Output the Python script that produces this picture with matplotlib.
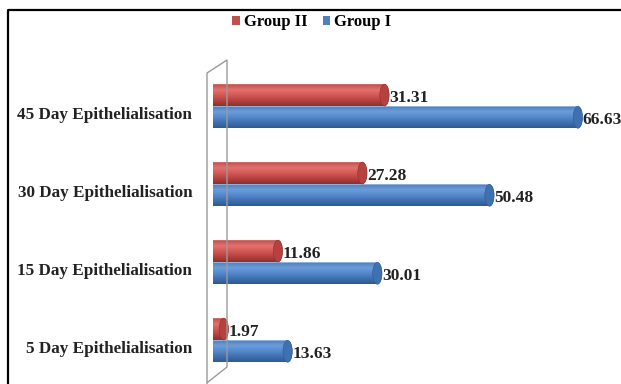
import numpy as np
import matplotlib
matplotlib.use("Agg")
import matplotlib.pyplot as plt
from matplotlib.path import Path
from matplotlib.patches import PathPatch, Ellipse, Patch
from matplotlib.lines import Line2D

categories = ['5 Day Epithelialisation', '15 Day Epithelialisation',
              '30 Day Epithelialisation', '45 Day Epithelialisation']
group1 = [13.63, 30.01, 50.48, 66.63]
group2 = [1.97, 11.86, 27.28, 31.31]
series_names = ['Group II', 'Group I']

plt.rcParams['font.family'] = ['Liberation Serif', 'DejaVu Serif']
plt.rcParams['font.weight'] = 'bold'

RED = ['#8e2f2c', '#b5423f', '#d45956', '#e2726f', '#c24e4b']
BLUE = ['#2d5a93', '#3f70b0', '#5489cc', '#6d9dd9', '#4a7fc0']


def gradient(stops, n=64):
    # vertical gradient, row 0 = bottom
    cols = np.array([matplotlib.colors.to_rgb(c) for c in stops])
    pos = np.linspace(0, 1, len(stops))
    t = np.linspace(0, 1, n)
    img = np.stack([np.interp(t, pos, cols[:, k]) for k in range(3)], axis=1)
    return img[:, None, :]


def cylinder(ax, val, yc, h, a, stops):
    y0, y1 = yc - h / 2, yc + h / 2
    b = h / 2
    t1 = np.linspace(np.pi / 2, 3 * np.pi / 2, 30)
    t2 = np.linspace(-np.pi / 2, np.pi / 2, 30)
    xs = list(a * np.cos(t1)) + list(val + a * np.cos(t2))
    ys = list(yc + b * np.sin(t1)) + list(yc + b * np.sin(t2))
    verts = list(zip(xs, ys)) + [(xs[0], ys[0])]
    codes = [Path.MOVETO] + [Path.LINETO] * (len(verts) - 2) + [Path.CLOSEPOLY]
    patch = PathPatch(Path(verts, codes), facecolor='none', edgecolor='none')
    ax.add_patch(patch)
    im = ax.imshow(gradient(stops), extent=[-a, val + a, y0, y1], origin='lower',
                   aspect='auto', interpolation='bilinear', zorder=2)
    im.set_clip_path(patch)
    cap = Ellipse((val, yc), 2 * a, h, facecolor=stops[1], edgecolor=stops[0],
                  linewidth=0.4, zorder=3)
    ax.add_patch(cap)


fig = plt.figure(figsize=(6.21, 3.84), dpi=100)
ax = fig.add_axes([213 / 621, 0, 408 / 621, 344 / 384])
ax.set_xlim(0, 74.5)
ax.set_ylim(-0.564, 3.846)

h = 0.28
a = 0.85
y = np.arange(len(categories))
for i in range(len(categories)):
    cylinder(ax, group2[i], y[i] + 0.14, h, a, RED)
    cylinder(ax, group1[i], y[i] - 0.145, h, a, BLUE)
    ax.text(group2[i] + a + 0.05, y[i] + 0.10, f"{group2[i]:.2f}", ha='left', va='center',
            fontsize=12.5, fontweight='bold', color='#222222', zorder=4)
    ax.text(group1[i] + a + 0.05, y[i] - 0.18, f"{group1[i]:.2f}", ha='left', va='center',
            fontsize=12.5, fontweight='bold', color='#222222', zorder=4)

ax.set_yticks(y - 0.09)
ax.set_yticklabels(categories, fontsize=12.3, fontweight='bold', color='#222222')
ax.tick_params(axis='y', length=0, pad=15)
ax.set_xticks([])
for s in ax.spines.values():
    s.set_visible(False)
ax.patch.set_alpha(0)

# side wall outline
W = 621.0
H = 384.0
wall = [(207, 384), (207, 73), (227, 60), (227, 367), (208, 382)]
fig.add_artist(Line2D([p[0] / W for p in wall], [1 - p[1] / H for p in wall],
                      color='#9a9a9a', linewidth=1.0))

# outer frame (top and left)
fig.add_artist(Line2D([8 / W, 8 / W, 1.0], [0, 1 - 10 / H, 1 - 10 / H],
                      color='black', linewidth=1.6))

handles = [Patch(facecolor='#c0504d'), Patch(facecolor='#4f81bd')]
fig.legend(handles, series_names, loc='center', bbox_to_anchor=(312 / W, 1 - 22 / H),
           ncol=2, frameon=False, handlelength=0.45, handleheight=0.45, handletextpad=0.25,
           columnspacing=0.9, prop={'size': 12, 'weight': 'bold'})

fig.savefig('out.png', dpi=100)
